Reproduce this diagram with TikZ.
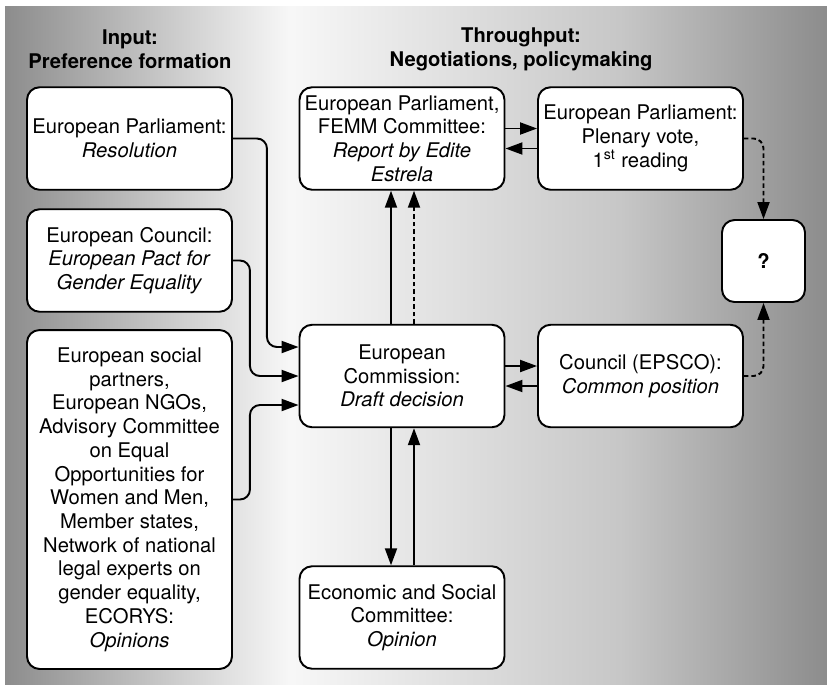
\documentclass[tikz,border=0pt]{standalone}
\usepackage{fontspec}
\setmainfont{TeX Gyre Heros}
\usetikzlibrary{arrows.meta, calc}
\tikzset{
    box/.style={draw, line width=1.1pt, rounded corners=0.25cm, fill=white, align=center,
        minimum width=4.1cm, minimum height=2.05cm, inner sep=1pt},
    hdr/.style={align=center, font=\fontsize{11.5}{13.5}\selectfont\bfseries},
    arr/.style={-{Triangle[length=0.34cm, width=0.24cm]}, line width=1.1pt, rounded corners=0.2cm},
    darr/.style={arr, dash pattern=on 0.09cm off 0.06cm},
    flow/.style={x=0.02cm, y=-0.02cm, font=\fontsize{11.5}{13.5}\selectfont}
}
\begin{document}
\begin{tikzpicture}[flow]
        \useasboundingbox (0,0) rectangle (827,687);
        \shade[left color=black!45, right color=black!3] (5,6) rectangle (290,684);
        \shade[left color=black!3, right color=black!22] (290,6) rectangle (620,684);
        \shade[left color=black!22, right color=black!45] (620,6) rectangle (827,684);

        \node[hdr] (inp) at (130,49) {Input:\\Preference formation};
        \node[hdr] (thr) at (521,49) {Throughput:\\Negotiations, policymaking};

        \node[box] (res) at (129.5,138.5) {European Parliament:\\\textit{Resolution}};
        \node[box] (pact) at (129.5,260.5) {European Council:\\\textit{European Pact for}\\\textit{Gender Equality}};
        \node[box, minimum height=6.78cm] (opin) at (129.5,499.5) {European social\\partners,\\European NGOs,\\Advisory Committee\\on Equal\\Opportunities for\\Women and Men,\\Member states,\\Network of national\\legal experts on\\gender equality,\\ECORYS:\\\textit{Opinions}};
        \node[box] (femm) at (402,138.5) {European Parliament,\\FEMM Committee:\\\textit{Report by Edite}\\\textit{Estrela}};
        \node[box] (plen) at (640.5,138.5) {European Parliament:\\Plenary vote,\\1\textsuperscript{st} reading};
        \node[box, minimum width=1.66cm, minimum height=1.64cm] (quest) at (763.5,261) {\textbf{?}};
        \node[box] (comm) at (402,376) {European\\Commission:\\\textit{Draft decision}};
        \node[box] (epsco) at (640.5,376) {Council (EPSCO):\\\textit{Common position}};
        \node[box] (esc) at (402,617.5) {Economic and Social\\Committee:\\\textit{Opinion}};

        \draw[arr] (res.east) -- ++(34,0) |- ($(comm.west)+(0,-29)$);
        \draw[arr] (pact.east) -- ++(17,0) |- (comm.west);
        \draw[arr] (opin.east) -- ++(17,0) |- ($(comm.west)+(0,29)$);
        \draw[arr] ($(comm.north)+(-11,0)$) -- ($(femm.south)+(-11,0)$);
        \draw[darr] ($(comm.north)+(12,0)$) -- ($(femm.south)+(12,0)$);
        \draw[arr] ($(comm.south)+(-11,0)$) -- ($(esc.north)+(-11,0)$);
        \draw[arr] ($(esc.north)+(12,0)$) -- ($(comm.south)+(12,0)$);
        \draw[arr] ($(femm.east)+(0,-10)$) -- ($(plen.west)+(0,-10)$);
        \draw[arr] ($(plen.west)+(0,10)$) -- ($(femm.east)+(0,10)$);
        \draw[arr] ($(comm.east)+(0,-10)$) -- ($(epsco.west)+(0,-10)$);
        \draw[arr] ($(epsco.west)+(0,10)$) -- ($(comm.east)+(0,10)$);
        \draw[darr] (plen.east) -| (quest.north);
        \draw[darr] (epsco.east) -| (quest.south);
    \end{tikzpicture}
\end{document}
